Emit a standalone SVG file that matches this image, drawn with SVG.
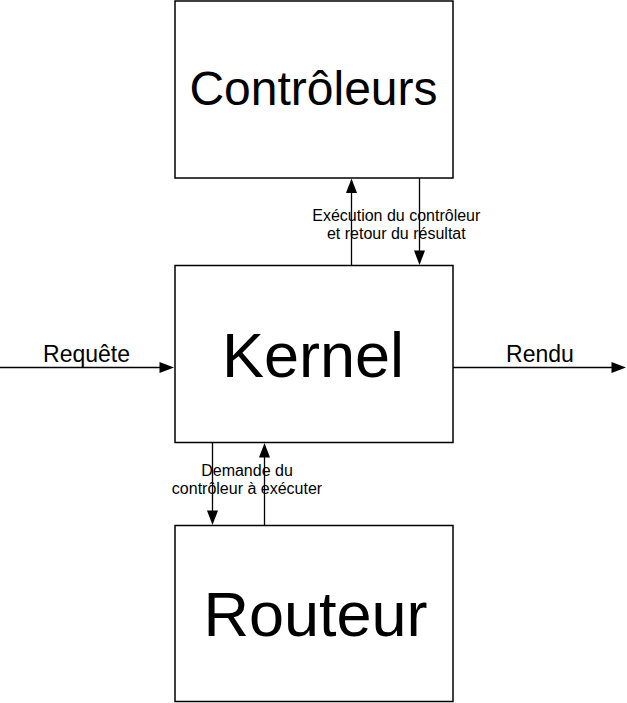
<svg xmlns="http://www.w3.org/2000/svg" width="627" height="703" viewBox="0 0 627 703">
<defs>
<style>
.box{fill:#fff;stroke:#000;stroke-width:1.5}
.ln{stroke:#000;stroke-width:1.3;fill:none}
.ah{fill:#000}
text{font-family:"Liberation Sans",Arial,sans-serif;fill:#000;text-anchor:middle}
.big{font-size:63px}
.mid{font-size:48px}
.lbl{font-size:23px}
.sm{font-size:16px}
</style>
</defs>
<rect width="627" height="703" fill="#fff"/>
<g id="controleurs">
<rect class="box" x="175" y="1" width="278" height="177"/>
<text class="mid" x="313.5" y="105">Contrôleurs</text>
</g>
<g id="kernel">
<rect class="box" x="175" y="265.5" width="278" height="177"/>
<text class="big" x="313" y="377">Kernel</text>
</g>
<g id="routeur">
<rect class="box" x="175" y="525.5" width="278" height="176"/>
<text class="big" x="315.5" y="636">Routeur</text>
</g>
<g id="connectors">
<line class="ln" x1="351.5" y1="265.5" x2="351.5" y2="190"/>
<polygon class="ah" points="351.5,178.5 346,193 357,193"/>
<line class="ln" x1="419.5" y1="178" x2="419.5" y2="254"/>
<polygon class="ah" points="419.5,265 414,250.5 425,250.5"/>
<line class="ln" x1="212.5" y1="442.5" x2="212.5" y2="514"/>
<polygon class="ah" points="212.5,525 207,510.5 218,510.5"/>
<line class="ln" x1="264.5" y1="525.5" x2="264.5" y2="454"/>
<polygon class="ah" points="264.5,443 259,457.5 270,457.5"/>
<line class="ln" x1="0" y1="367.5" x2="162" y2="367.5"/>
<polygon class="ah" points="174,367.5 159.5,362 159.5,373"/>
<line class="ln" x1="453" y1="367.5" x2="614" y2="367.5"/>
<polygon class="ah" points="626,367.5 611.5,362 611.5,373"/>
<text class="sm" x="396.3" y="221">Exécution du contrôleur</text>
<text class="sm" x="396.3" y="238.5">et retour du résultat</text>
<text class="sm" x="247" y="476">Demande du</text>
<text class="sm" x="247" y="494">contrôleur à exécuter</text>
<text class="lbl" x="86.5" y="362">Requête</text>
<text class="lbl" x="540" y="362">Rendu</text>
</g>
</svg>
